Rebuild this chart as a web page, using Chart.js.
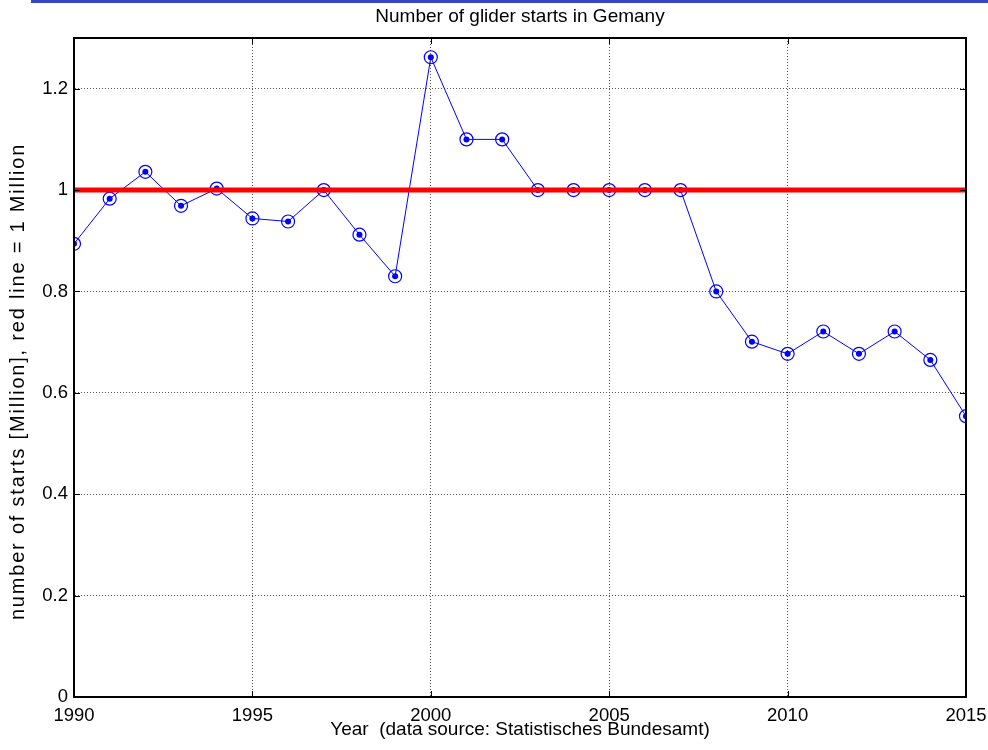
<!DOCTYPE html>
<html>
<head>
<meta charset="utf-8">
<script src="https://cdn.jsdelivr.net/npm/chart.js@4.4.0/dist/chart.umd.min.js"></script>
<style>
  html, body { margin: 0; padding: 0; background: #fff; }
  #wrap { position: relative; width: 988px; height: 750px; }
</style>
</head>
<body>
<div id="wrap"><canvas id="chart"></canvas></div>
<script>
// data (million glider starts per year)
const years = [1990, 1991, 1992, 1993, 1994, 1995, 1996, 1997, 1998, 1999, 2000, 2001, 2002,
               2003, 2004, 2005, 2006, 2007, 2008, 2009, 2010, 2011, 2012, 2013, 2014, 2015];
const starts = [0.894, 0.983, 1.036, 0.969, 1.003, 0.944, 0.938, 1.0, 0.912, 0.830, 1.262, 1.1, 1.1,
                1.0, 1.0, 1.0, 1.0, 1.0, 0.8, 0.701, 0.677, 0.721, 0.677, 0.721, 0.665, 0.554];
const refYears = [1990, 2015];
const refLevel = [1, 1];
const xTicks = [1990, 1995, 2000, 2005, 2010, 2015];
const yTicks = [0, 0.2, 0.4, 0.6, 0.8, 1, 1.2];

const toPoints = (xs, ys) => xs.map((x, i) => ({ x: x, y: ys[i] }));

const FONT = "'Liberation Sans', Arial, sans-serif";

// matlab style box + inward ticks + top stripe
const frame = {
    id: 'frame',
    beforeDraw(chart) {
        const ctx = chart.ctx;
        ctx.save();
        ctx.fillStyle = '#fff';
        ctx.fillRect(0, 0, chart.width, chart.height);
        ctx.fillStyle = '#3a46c8';
        ctx.fillRect(31, 0, chart.width - 31, 3);
        ctx.restore();
    },
    afterDatasetsDraw(chart) {
        const { ctx, chartArea: a, scales } = chart;
        const tl = 6;
        ctx.save();
        ctx.strokeStyle = '#000';
        ctx.lineWidth = 1;
        ctx.beginPath();
        xTicks.forEach(v => {
            const px = Math.round(scales.x.getPixelForValue(v)) + 0.5;
            ctx.moveTo(px, a.bottom); ctx.lineTo(px, a.bottom - tl);
            ctx.moveTo(px, a.top); ctx.lineTo(px, a.top + tl);
        });
        yTicks.forEach(v => {
            const py = Math.round(scales.y.getPixelForValue(v)) + 0.5;
            ctx.moveTo(a.left, py); ctx.lineTo(a.left + tl, py);
            ctx.moveTo(a.right, py); ctx.lineTo(a.right - tl, py);
        });
        ctx.stroke();
        ctx.lineWidth = 2;
        ctx.strokeRect(a.left, a.top, a.right - a.left, a.bottom - a.top);
        ctx.restore();
    }
};

// x axis: fixed height, and don't let the end labels push the plot inwards
function fitX(scale) {
    scale.height = 53;
    scale.paddingLeft = 0;
    scale.paddingRight = 0;
}

// the rotated label in the original is drawn stretched, widen it a bit
function spacedYTitle(scale) {
    scale.width = 74;
    if (scale._spaced) return;
    scale._spaced = true;
    const base = scale.drawTitle;
    scale.drawTitle = function () {
        const ctx = this.ctx;
        ctx.save();
        ctx.letterSpacing = '1.8px';
        ctx.translate(0, 14);
        base.call(this);
        ctx.restore();
    };
}

new Chart(document.getElementById('chart'), {
    type: 'line',
    data: {
        datasets: [{
            label: 'red line = 1 Million',
            data: toPoints(refYears, refLevel),
            borderColor: '#ff0000',
            borderWidth: 5,
            pointRadius: 0,
            tension: 0,
        }, {
            label: 'starts',
            data: toPoints(years, starts),
            borderColor: '#0000ff',
            borderWidth: 1,
            pointStyle: 'circle',
            pointRadius: 6.5,
            pointBorderWidth: 1.2,
            pointBackgroundColor: 'rgba(0,0,0,0)',
            pointBorderColor: '#0000ff',
            tension: 0,
        }, {
            label: 'starts (dots)',
            data: toPoints(years, starts),
            showLine: false,
            pointRadius: 3,
            pointBorderWidth: 0,
            pointBackgroundColor: '#0000ff',
            pointBorderColor: '#0000ff',
        }],
    },
    options: {
        responsive: true,
        maintainAspectRatio: false,
        animation: false,
        events: [],
        layout: { padding: { left: 0, right: 22, top: 0, bottom: 0 } },
        plugins: {
            legend: { display: false },
            tooltip: { enabled: false },
            title: {
                display: true,
                fullSize: false,
                text: 'Number of glider starts in Gemany',
                color: '#000',
                font: { family: FONT, size: 19, weight: 'normal' },
                padding: { top: 5, bottom: 10.2 },
            },
        },
        scales: {
            x: {
                type: 'linear',
                min: 1990,
                max: 2015,
                afterBuildTicks: s => { s.ticks = xTicks.map(v => ({ value: v })); },
                afterFit: fitX,
                ticks: {
                    color: '#000',
                    font: { family: FONT, size: 18.5 },
                    padding: 8,
                    maxRotation: 0,
                    callback: v => String(v),
                },
                grid: { color: '#555', lineWidth: 1, drawTicks: false },
                border: { display: true, color: '#000', width: 1, dash: [1, 2] },
                title: {
                    display: true,
                    text: 'Year  (data source: Statistisches Bundesamt)',
                    color: '#000',
                    font: { family: FONT, size: 19 },
                    padding: { top: 0, bottom: 9 },
                },
            },
            y: {
                min: 0,
                max: 1.3,
                afterBuildTicks: s => { s.ticks = yTicks.map(v => ({ value: v })); },
                afterFit: spacedYTitle,
                ticks: {
                    color: '#000',
                    font: { family: FONT, size: 18.5 },
                    padding: 6,
                    callback: v => String(v),
                },
                grid: { color: '#555', lineWidth: 1, drawTicks: false },
                border: { display: true, color: '#000', width: 1, dash: [1, 2] },
                title: {
                    display: true,
                    text: 'number of starts [Million], red line = 1 Million',
                    color: '#000',
                    font: { family: FONT, size: 20 },
                    padding: { top: 6, bottom: 0 },
                },
            },
        },
    },
    plugins: [frame],
});
</script>
</body>
</html>
